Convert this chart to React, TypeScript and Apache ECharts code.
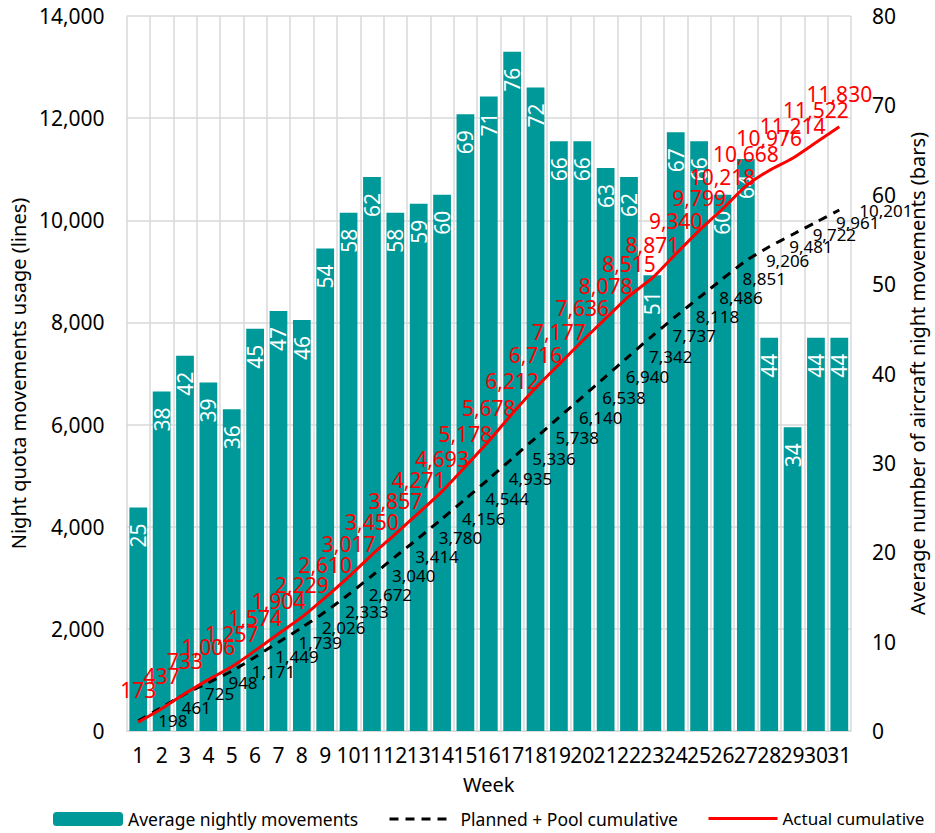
import React, { useEffect, useRef } from "react";
import * as echarts from "echarts";

const weeks = Array.from({ length: 31 }, (_, i) => String(i + 1));
const avgNightly = [25, 38, 42, 39, 36, 45, 47, 46, 54, 58, 62, 58, 59, 60, 69, 71, 76, 72, 66, 66, 63, 62, 51, 67, 66, 60, 64, 44, 34, 44, 44];
const plannedCum = [198, 461, 725, 948, 1171, 1449, 1739, 2026, 2333, 2672, 3040, 3414, 3780, 4156, 4544, 4935, 5336, 5738, 6140, 6538, 6940, 7342, 7737, 8118, 8486, 8851, 9206, 9481, 9722, 9961, 10201];
const actualCum = [173, 437, 733, 1006, 1257, 1574, 1904, 2229, 2610, 3017, 3450, 3857, 4271, 4693, 5178, 5678, 6212, 6716, 7177, 7636, 8078, 8515, 8871, 9340, 9799, 10218, 10668, 10976, 11214, 11522, 11830];

const FONT = "Noto Sans";
const fmt = (v: number) => Number(v).toLocaleString("en-US");

export default function App() {
  const ref = useRef<HTMLDivElement>(null);
  useEffect(() => {
    if (!ref.current) return;
    const chart = echarts.init(ref.current, undefined, { renderer: "svg" });
    const grid = "#d9d9d9";
    const legendText = { fontFamily: FONT, fontSize: 17.5, color: "#000" };
    chart.setOption({
      animation: false,
      backgroundColor: "#ffffff",
      textStyle: { fontFamily: FONT },
      grid: { left: 123, right: 83, top: 16, bottom: 102, containLabel: false },
      legend: [
        {
          data: ["Average nightly movements"],
          left: 48, top: 805, itemWidth: 70, itemHeight: 14, itemGap: 0,
          textStyle: legendText,
        },
        {
          data: ["Planned + Pool cumulative"],
          left: 383, top: 805, itemWidth: 62, itemHeight: 14, itemGap: 0,
          itemStyle: { opacity: 0 },
          lineStyle: { width: 3, type: [9, 7] },
          textStyle: { ...legendText, padding: [0, 0, 0, 4] },
        },
        {
          data: ["Actual cumulative"],
          left: 702, top: 805, itemWidth: 69, itemHeight: 14, itemGap: 0,
          itemStyle: { opacity: 0 },
          lineStyle: { width: 3 },
          textStyle: { ...legendText, fontSize: 17 },
        },
      ],
      xAxis: {
        type: "category",
        data: weeks,
        name: "Week",
        nameLocation: "middle",
        nameGap: 43,
        nameTextStyle: { fontFamily: FONT, fontSize: 20, color: "#000" },
        axisLine: { show: true, lineStyle: { color: grid, width: 1.5 } },
        axisTick: { show: false },
        axisLabel: { interval: 0, fontSize: 21, color: "#000", margin: 13, fontFamily: FONT },
        splitLine: { show: true, interval: 0, lineStyle: { color: grid, width: 1.5 } },
      },
      yAxis: [
        {
          type: "value",
          min: 0, max: 14000, interval: 2000,
          name: "Night quota movements usage (lines)",
          nameLocation: "middle",
          nameGap: 94,
          nameTextStyle: { fontFamily: FONT, fontSize: 20, color: "#000" },
          axisLine: { show: false },
          axisTick: { show: false },
          axisLabel: { fontSize: 21, color: "#000", margin: 22, formatter: (v: number) => fmt(v), fontFamily: FONT },
          splitLine: { show: true, lineStyle: { color: grid, width: 1.5 } },
        },
        {
          type: "value",
          min: 0, max: 80, interval: 10,
          position: "right",
          name: "Average number of aircraft night movements (bars)",
          nameLocation: "middle",
          nameGap: 56,
          nameTextStyle: { fontFamily: FONT, fontSize: 20, color: "#000" },
          axisLine: { show: false },
          axisTick: { show: false },
          axisLabel: { fontSize: 21, color: "#000", margin: 21, fontFamily: FONT },
          splitLine: { show: false },
        },
      ],
      series: [
        {
          name: "Average nightly movements",
          type: "bar",
          yAxisIndex: 1,
          data: avgNightly,
          barWidth: "76%",
          itemStyle: { color: "#009999" },
          label: {
            show: true,
            position: "insideTop",
            rotate: 90,
            align: "right",
            verticalAlign: "middle",
            distance: 16,
            color: "#ffffff",
            fontSize: 21,
            fontFamily: FONT,
          },
        },
        {
          name: "Planned + Pool cumulative",
          type: "line",
          yAxisIndex: 0,
          data: plannedCum,
          symbol: "circle",
          symbolSize: 0.1,
          smooth: 0.2,
          itemStyle: { color: "#000000" },
          lineStyle: { color: "#000000", width: 3, type: [9, 7] },
          label: {
            show: true,
            position: "right",
            distance: 20,
            color: "#000",
            fontSize: 17,
            fontFamily: FONT,
            formatter: (p: any) => fmt(p.value),
          },
          z: 3,
        },
        {
          name: "Actual cumulative",
          type: "line",
          yAxisIndex: 0,
          data: actualCum,
          symbol: "circle",
          symbolSize: 0.1,
          smooth: 0.2,
          itemStyle: { color: "#ff0000" },
          lineStyle: { color: "#ff0000", width: 3 },
          label: {
            show: true,
            position: "top",
            distance: 22,
            color: "#ff0000",
            fontSize: 21,
            fontFamily: FONT,
            formatter: (p: any) => fmt(p.value),
          },
          z: 4,
        },
      ],
    });
    return () => chart.dispose();
  }, []);
  return <div ref={ref} style={{ position: "fixed", left: 0, top: 0, width: 935, height: 833 }} />;
}
